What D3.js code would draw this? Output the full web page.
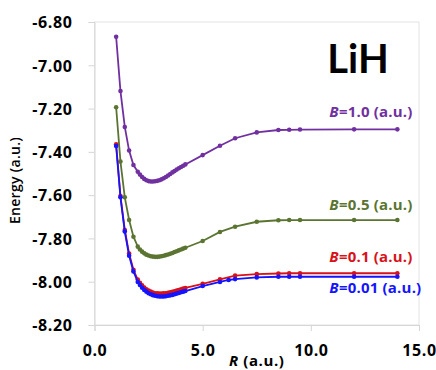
<!DOCTYPE html>
<html lang="en">
<head>
    <meta charset="UTF-8">
    <title>LiH energy curves</title>
    <script src="https://d3js.org/d3.v7.min.js"></script>
    <style>
        body { margin: 0; background: #fff; }
        svg text { font-family: "Open Sans", sans-serif; fill: #000; }
        .tick-label { font-size: 16px; font-weight: 700; letter-spacing: 0.6px; }
        .series-label { font-size: 15px; font-weight: 700; letter-spacing: 0.2px; }
    </style>
</head>
<body>
<svg width="436" height="370"></svg>

<script>
    // bond length R (a.u.)
    var rValues = [1.0, 1.2, 1.4, 1.6, 1.8, 2.0, 2.1, 2.2, 2.3, 2.4, 2.5, 2.6, 2.7, 2.8, 2.9, 3.0,
        3.1, 3.2, 3.3, 3.4, 3.5, 3.6, 3.7, 3.8, 3.9, 4.0, 4.1, 4.2, 5.0, 5.8, 6.5, 7.5, 8.5, 9.0, 9.5, 12.0, 14.0];
    // the B=0.01 run has one more point at R=6.2
    var rValuesB001 = [1.0, 1.2, 1.4, 1.6, 1.8, 2.0, 2.1, 2.2, 2.3, 2.4, 2.5, 2.6, 2.7, 2.8, 2.9, 3.0,
        3.1, 3.2, 3.3, 3.4, 3.5, 3.6, 3.7, 3.8, 3.9, 4.0, 4.1, 4.2, 5.0, 5.8, 6.2, 6.5, 7.5, 8.5, 9.0, 9.5, 12.0, 14.0];

    var energyB10 = [-6.868, -7.119, -7.285, -7.394, -7.461, -7.492, -7.505, -7.516, -7.525, -7.531, -7.535, -7.537,
        -7.537, -7.536, -7.534, -7.531, -7.527, -7.522, -7.516, -7.509, -7.502, -7.495, -7.489, -7.482, -7.476,
        -7.470, -7.464, -7.458, -7.415, -7.372, -7.337, -7.310, -7.299, -7.298, -7.297, -7.296, -7.296];
    var energyB05 = [-7.194, -7.445, -7.610, -7.715, -7.792, -7.838, -7.851, -7.861, -7.869, -7.875, -7.879, -7.882,
        -7.884, -7.885, -7.885, -7.884, -7.882, -7.880, -7.877, -7.874, -7.871, -7.867, -7.863, -7.859, -7.855,
        -7.851, -7.847, -7.843, -7.812, -7.770, -7.746, -7.723, -7.716, -7.715, -7.715, -7.715, -7.715];
    var energyB01 = [-7.365, -7.604, -7.761, -7.870, -7.945, -7.990, -8.005, -8.017, -8.027, -8.035, -8.041, -8.046,
        -8.050, -8.053, -8.054, -8.055, -8.055, -8.054, -8.053, -8.051, -8.049, -8.047, -8.044, -8.041, -8.038,
        -8.035, -8.032, -8.029, -8.010, -7.989, -7.972, -7.965, -7.962, -7.961, -7.961, -7.961, -7.961];
    var energyB001 = [-7.373, -7.610, -7.768, -7.880, -7.953, -8.001, -8.015, -8.028, -8.038, -8.046, -8.053, -8.058,
        -8.062, -8.065, -8.067, -8.068, -8.068, -8.068, -8.067, -8.065, -8.063, -8.061, -8.058, -8.055, -8.052,
        -8.049, -8.046, -8.043, -8.020, -8.001, -7.992, -7.988, -7.980, -7.977, -7.977, -7.977, -7.977, -7.977];

    var seriesNames = ["1.0", "0.5", "0.1", "0.01"];
    var xTicks = [0, 5, 10, 15];
    var yTicks = [-6.8, -7.0, -7.2, -7.4, -7.6, -7.8, -8.0, -8.2];

    var series = [
        { name: seriesNames[0], r: rValues, e: energyB10, color: "#7030A0", dy: -12 },
        { name: seriesNames[1], r: rValues, e: energyB05, color: "#5B7432", dy: -10 },
        { name: seriesNames[2], r: rValues, e: energyB01, color: "#D8121A", dy: -11.5 },
        { name: seriesNames[3], r: rValuesB001, e: energyB001, color: "#1414FF", dy: 16.5 }
    ];

    var svg = d3.select("svg"),
        plotLeft = 94.5, plotRight = 419, plotTop = 22, plotBottom = 325;

    var x = d3.scaleLinear().domain([0, 15]).range([plotLeft, plotRight]),
        y = d3.scaleLinear().domain([-8.2, -6.8]).range([plotBottom, plotTop]);

    // plot area frame
    svg.append("rect")
        .attr("x", plotLeft).attr("y", plotTop)
        .attr("width", plotRight - plotLeft).attr("height", plotBottom - plotTop)
        .attr("fill", "none").attr("stroke", "#e3e3e3").attr("stroke-width", 1);

    // y axis
    var yAxis = svg.append("g")
        .attr("transform", "translate(" + plotLeft + ",0)")
        .call(d3.axisLeft(y).tickValues(yTicks).tickSize(6).tickPadding(16)
            .tickFormat(function(d) { return d.toFixed(2); }));
    yAxis.select(".domain").attr("stroke", "#d6d6d6");
    yAxis.selectAll(".tick line").attr("stroke", "#d6d6d6");
    yAxis.selectAll("text").attr("class", "tick-label").attr("dy", "0.36em");

    // x axis
    var xAxis = svg.append("g")
        .attr("transform", "translate(0," + plotBottom + ")")
        .call(d3.axisBottom(x).tickValues(xTicks).tickSize(6).tickPadding(14)
            .tickFormat(function(d) { return d.toFixed(1); }));
    xAxis.select(".domain").attr("stroke", "#d6d6d6");
    xAxis.selectAll(".tick line").attr("stroke", "#d6d6d6");
    xAxis.selectAll("text").attr("class", "tick-label");

    // axis titles
    svg.append("text")
        .attr("transform", "translate(20," + ((plotTop + plotBottom) / 2 + 7) + ") rotate(-90)")
        .attr("text-anchor", "middle")
        .style("font-size", "14px")
        .style("font-weight", 600)
        .style("letter-spacing", "0.3px")
        .text("Energy (a.u.)");

    var xTitle = svg.append("text")
        .attr("x", (plotLeft + plotRight) / 2)
        .attr("y", 366)
        .attr("text-anchor", "middle")
        .style("font-size", "15px")
        .style("font-weight", 700)
        .style("letter-spacing", "0.6px");
    xTitle.append("tspan").style("font-style", "italic").text("R");
    xTitle.append("tspan").text(" (a.u.)");

    // molecule title
    svg.append("text")
        .attr("x", 358).attr("y", 73)
        .attr("text-anchor", "middle")
        .style("font-family", "Lato, sans-serif")
        .style("font-size", "40px")
        .style("font-weight", 700)
        .text("LiH");

    var line = d3.line()
        .x(function(d) { return x(d[0]); })
        .y(function(d) { return y(d[1]); });

    series.forEach(function(s) {
        var pts = s.r.map(function(r, i) { return [r, s.e[i]]; });

        svg.append("path")
            .datum(pts)
            .attr("d", line)
            .attr("fill", "none")
            .attr("stroke", s.color)
            .attr("stroke-width", 1.8);

        svg.append("g").selectAll("circle")
            .data(pts)
            .enter().append("circle")
            .attr("cx", function(d) { return x(d[0]); })
            .attr("cy", function(d) { return y(d[1]); })
            .attr("r", 2.3)
            .attr("fill", s.color);

        var last = pts[pts.length - 1];
        var label = svg.append("text")
            .attr("class", "series-label")
            .attr("x", x(last[0]) - 68)
            .attr("y", y(last[1]) + s.dy)
            .style("fill", s.color);
        label.append("tspan").style("font-style", "italic").text("B");
        label.append("tspan").text("=" + s.name + " (a.u.)");
    });
</script>
</body>
</html>
